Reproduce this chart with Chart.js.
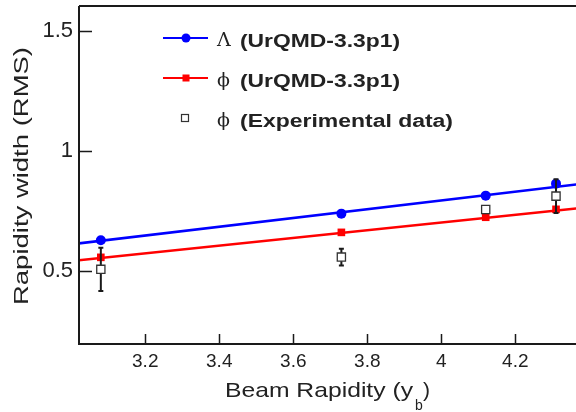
<!DOCTYPE html>
<html>
<head>
<meta charset="utf-8">
<script src="https://cdn.jsdelivr.net/npm/chart.js@4"></script>
<style>
  html, body { margin: 0; padding: 0; background: #fff; }
  #wrap { width: 576px; height: 412px; }
</style>
</head>
<body>
<div id="wrap"><canvas id="chart" width="576" height="412"></canvas></div>
<script>
// values
const beamRapidity = [3.08, 3.73, 4.12, 4.31];
const lambdaWidth = [0.628, 0.739, 0.814, 0.864];
const phiWidth = [0.557, 0.661, 0.724, 0.757];
const phiExp = [0.507, 0.558, 0.756, 0.812];
const phiExpErr = [0.09, 0.035, 0, 0.07];

// straight fits drawn across the whole frame
const fitX = [3.02, 4.365];
const lambdaFit = [0.615, 0.861];
const phiFit = [0.545, 0.761];

const xTicks = [3.2, 3.4, 3.6, 3.8, 4.0, 4.2];
const yTicks = [0.5, 1.0, 1.5];

const INK = '#1a1a1a';
const BLUE = '#0000ff';
const RED = '#ff0000';

const pts = (xs, ys) => xs.map((x, i) => ({ x, y: ys[i] }));

// squeeze/stretch a string to a given width
function fitText(ctx, text, x, y, w, center) {
    const m = ctx.measureText(text).width;
    ctx.save();
    ctx.translate(x, y);
    ctx.scale(w / m, 1);
    ctx.textAlign = 'left';
    ctx.fillText(text, center ? -m / 2 : 0, 0);
    ctx.restore();
}

const frame = {
    id: 'frame',
    beforeDatasetDraw(chart, args) {
        if (args.index !== 0) return;
        const { ctx, scales: { x, y } } = chart;
        ctx.save();
        ctx.strokeStyle = INK;
        ctx.lineWidth = 2;
        beamRapidity.forEach((b, i) => {
            const e = phiExpErr[i];
            if (!e) return;
            const px = x.getPixelForValue(b);
            const top = y.getPixelForValue(phiExp[i] + e);
            const bot = y.getPixelForValue(phiExp[i] - e);
            ctx.beginPath();
            ctx.moveTo(px, top); ctx.lineTo(px, bot);
            ctx.moveTo(px - 2.5, top); ctx.lineTo(px + 2.5, top);
            ctx.moveTo(px - 2.5, bot); ctx.lineTo(px + 2.5, bot);
            ctx.stroke();
        });
        ctx.restore();
    },
    afterDraw(chart) {
        const { ctx, chartArea: a, scales: { x, y } } = chart;
        ctx.save();

        // frame lines
        ctx.strokeStyle = INK;
        ctx.lineWidth = 2;
        ctx.beginPath();
        ctx.moveTo(a.left, a.top); ctx.lineTo(a.left, a.bottom); ctx.lineTo(a.right, a.bottom);
        ctx.moveTo(a.left, a.top); ctx.lineTo(a.right, a.top);
        ctx.stroke();

        // inward ticks
        ctx.lineWidth = 1.5;
        ctx.beginPath();
        xTicks.forEach(v => {
            const px = Math.round(x.getPixelForValue(v)) + 0.5;
            ctx.moveTo(px, a.bottom); ctx.lineTo(px, a.bottom - 10);
        });
        yTicks.forEach(v => {
            const py = Math.round(y.getPixelForValue(v)) + 0.5;
            ctx.moveTo(a.left, py); ctx.lineTo(a.left + 13, py);
        });
        ctx.stroke();

        // axis titles
        ctx.fillStyle = '#222';
        ctx.textBaseline = 'alphabetic';
        ctx.font = '21px "Liberation Sans", Arial, sans-serif';
        fitText(ctx, 'Beam Rapidity (y', 225, 397, 188, false);
        ctx.font = '14px "Liberation Sans", Arial, sans-serif';
        ctx.fillText('b', 415, 410);
        ctx.font = '21px "Liberation Sans", Arial, sans-serif';
        ctx.fillText(')', 423, 397);

        ctx.save();
        ctx.translate(28, 176);
        ctx.rotate(-Math.PI / 2);
        fitText(ctx, 'Rapidity width (RMS)', 0, 0, 258, true);
        ctx.restore();

        // legend
        const rows = [
            { y: 38, greek: 'Λ', text: '(UrQMD-3.3p1)', w: 160, kind: 'circle', color: BLUE },
            { y: 78, greek: 'ϕ', text: '(UrQMD-3.3p1)', w: 160, kind: 'square', color: RED },
            { y: 118, greek: 'ϕ', text: '(Experimental data)', w: 213, kind: 'open' },
        ];
        rows.forEach(r => {
            if (r.kind !== 'open') {
                ctx.strokeStyle = r.color;
                ctx.lineWidth = 2;
                ctx.beginPath();
                ctx.moveTo(163, r.y); ctx.lineTo(208, r.y);
                ctx.stroke();
                ctx.fillStyle = r.color;
                if (r.kind === 'circle') {
                    ctx.beginPath();
                    ctx.arc(186, r.y, 4.5, 0, Math.PI * 2);
                    ctx.fill();
                } else {
                    ctx.fillRect(182.5, r.y - 3.5, 7, 7);
                }
            } else {
                ctx.fillStyle = '#fff';
                ctx.strokeStyle = '#333';
                ctx.lineWidth = 1.2;
                ctx.fillRect(181.5, r.y - 3.5, 7, 7);
                ctx.strokeRect(181.5, r.y - 3.5, 7, 7);
            }
            ctx.fillStyle = '#222';
            ctx.textAlign = 'left';
            ctx.font = '19px "DejaVu Serif", "Liberation Serif", serif';
            ctx.fillText(r.greek, 217, r.y + 8);
            ctx.font = 'bold 18px "Liberation Sans", Arial, sans-serif';
            fitText(ctx, r.text, 240, r.y + 8.5, r.w, false);
        });

        ctx.restore();
    }
};

new Chart(document.getElementById('chart'), {
    type: 'scatter',
    data: {
        datasets: [
            {
                label: 'phi (Experimental data)',
                data: pts(beamRapidity, phiExp),
                pointStyle: 'rect',
                pointRadius: 5.8,
                backgroundColor: '#fff',
                borderColor: '#333',
                borderWidth: 1.3,
                showLine: false,
            },
            {
                label: 'Lambda (UrQMD-3.3p1)',
                data: pts(beamRapidity, lambdaWidth),
                pointStyle: 'circle',
                pointRadius: 5,
                backgroundColor: BLUE,
                borderColor: BLUE,
                borderWidth: 0,
                showLine: false,
            },
            {
                label: 'phi (UrQMD-3.3p1)',
                data: pts(beamRapidity, phiWidth),
                pointStyle: 'rect',
                pointRadius: 5.4,
                backgroundColor: RED,
                borderColor: RED,
                borderWidth: 0,
                showLine: false,
            },
            {
                label: 'Lambda fit',
                data: pts(fitX, lambdaFit),
                showLine: true,
                pointRadius: 0,
                borderColor: BLUE,
                borderWidth: 2.5,
            },
            {
                label: 'phi fit',
                data: pts(fitX, phiFit),
                showLine: true,
                pointRadius: 0,
                borderColor: RED,
                borderWidth: 2.5,
            },
        ],
    },
    options: {
        responsive: false,
        animation: false,
        layout: { autoPadding: false, padding: { top: 6, right: 0, left: 0, bottom: 0 } },
        plugins: {
            legend: { display: false },
            tooltip: { enabled: false },
        },
        scales: {
            x: {
                type: 'linear',
                min: 3.021,
                max: 4.364,
                grid: { display: false, drawTicks: false },
                border: { display: false },
                afterBuildTicks: s => { s.ticks = xTicks.map(v => ({ value: v })); },
                afterFit: s => { s.height = 68; s.paddingLeft = 0; s.paddingRight = 0; },
                ticks: {
                    color: '#222',
                    padding: 6,
                    maxRotation: 0,
                    autoSkip: false,
                    font: { family: '"Liberation Sans", Arial, sans-serif', size: 19 },
                    callback: v => String(v),
                },
            },
            y: {
                type: 'linear',
                min: 0.196,
                max: 1.604,
                grid: { display: false, drawTicks: false },
                border: { display: false },
                afterBuildTicks: s => { s.ticks = yTicks.map(v => ({ value: v })); },
                afterFit: s => { s.width = 79; s.paddingTop = 0; s.paddingBottom = 0; },
                ticks: {
                    color: '#222',
                    padding: 6,
                    font: { family: '"Liberation Sans", Arial, sans-serif', size: 22 },
                    callback: v => String(v),
                },
            },
        },
    },
    plugins: [frame],
});
</script>
</body>
</html>
